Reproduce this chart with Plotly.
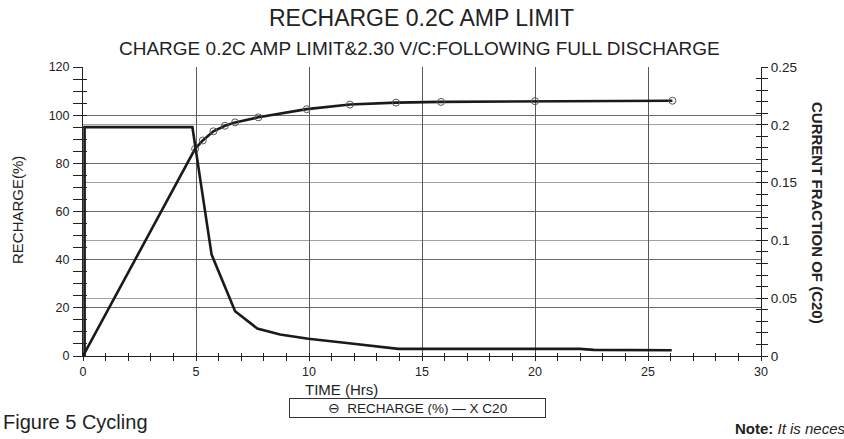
import plotly.graph_objects as go

# ---------------- data ----------------
time_recharge = [0.0, 4.96, 5.30, 5.77, 6.28, 6.73, 7.76, 9.90, 11.81, 13.85, 15.84, 20.0, 26.08]
recharge_pct = [0.0, 86.0, 89.5, 93.3, 95.6, 97.0, 99.1, 102.5, 104.4, 105.2, 105.5, 105.8, 106.0]

time_current = [0.07, 0.07, 4.84, 5.10, 5.69, 6.73, 7.71, 8.72, 9.97, 11.67, 13.95, 21.99, 22.6, 26.05]
current_c20 = [0.0, 0.198, 0.198, 0.164, 0.0877, 0.0387, 0.0238, 0.0186, 0.0149, 0.0112, 0.0062, 0.0062, 0.0053, 0.0050]

x_ticks = [0, 5, 10, 15, 20, 25, 30]
y_left_grid = [20, 40, 60, 80, 100]
y_right_grid = [0.05, 0.10, 0.15, 0.20]

# ---------------- layout geometry ----------------
W, H = 844, 439
L, R, T, B = 83, 83, 67, 83
PW, PH = W - L - R, H - T - B


def fx(p):
    return (p - L) / PW


def fy(p):
    return (H - B - p) / PH


FONT = "Liberation Sans, Arial, sans-serif"
INK = "#1a1a1a"

fig = go.Figure()

fig.add_trace(go.Scatter(x=time_recharge, y=recharge_pct, mode="lines",
                         line=dict(color=INK, width=2.6), showlegend=False,
                         xaxis="x", yaxis="y", name="RECHARGE (%)"))
fig.add_trace(go.Scatter(x=time_recharge[1:], y=recharge_pct[1:], mode="markers",
                         marker=dict(symbol="circle-open", size=7, color="#555555",
                                     line=dict(width=1, color="#555555")),
                         showlegend=False, xaxis="x", yaxis="y", name="RECHARGE (%)"))
fig.add_trace(go.Scatter(x=time_current, y=current_c20, mode="lines",
                         line=dict(color=INK, width=2.6), showlegend=False,
                         xaxis="x", yaxis="y2", name="X C20"))
# empty helpers so the overlay tick/grid axes are drawn
fig.add_trace(go.Scatter(x=[], y=[], xaxis="x2", yaxis="y", showlegend=False))
fig.add_trace(go.Scatter(x=[], y=[], xaxis="x", yaxis="y3", showlegend=False))
fig.add_trace(go.Scatter(x=[], y=[], xaxis="x", yaxis="y4", showlegend=False))

tickfont = dict(family=FONT, size=12.5, color="#222222")

fig.update_layout(
    width=W, height=H,
    margin=dict(l=L, r=R, t=T, b=B, pad=0),
    paper_bgcolor="white", plot_bgcolor="white",
    showlegend=False,
    xaxis=dict(range=[0, 30], tickmode="array", tickvals=x_ticks,
               ticks="outside", ticklen=4, tickcolor="#222", tickwidth=1,
               minor=dict(dtick=1, tick0=0, ticks="outside", ticklen=4, tickcolor="#222", showgrid=False),
               showline=True, linecolor="#222", linewidth=1, showgrid=False, zeroline=False,
               tickfont=tickfont, ticklabelstandoff=0),
    xaxis2=dict(range=[0, 30], overlaying="x", anchor="y", side="bottom",
                tickmode="array", tickvals=x_ticks[1:-1], ticks="inside", ticklen=3,
                tickcolor="#222", showticklabels=False, showline=False, zeroline=False,
                minor=dict(dtick=1, tick0=0, ticks="inside", ticklen=3, tickcolor="#222"),
                showgrid=True, gridcolor="#5a5a5a", gridwidth=1),
    yaxis=dict(range=[0, 120], dtick=20, tick0=0, ticks="outside", ticklen=9,
               tickcolor="#222", minor=dict(dtick=5, tick0=0, ticks="outside", ticklen=9, tickcolor="#222"),
               showline=True, linecolor="#222", linewidth=1, showgrid=False, zeroline=False,
               tickfont=tickfont, ticklabelstandoff=1),
    yaxis3=dict(range=[0, 120], overlaying="y", anchor="x", side="left",
                tickmode="array", tickvals=y_left_grid, ticks="inside", ticklen=4, tickcolor="#222",
                minor=dict(tickmode="array", tickvals=list(range(5, 120, 5)), ticks="inside",
                           ticklen=4, tickcolor="#222"),
                showticklabels=False, showline=False, zeroline=False,
                showgrid=True, gridcolor="#6a6a6a", gridwidth=1),
    yaxis2=dict(range=[0, 0.25], overlaying="y", anchor="x", side="right", dtick=0.05, tick0=0,
                ticks="outside", ticklen=6, tickcolor="#222",
                minor=dict(dtick=0.01, tick0=0, ticks="outside", ticklen=6, tickcolor="#222"),
                showline=True, linecolor="#222", linewidth=1, showgrid=False, zeroline=False,
                tickfont=dict(family=FONT, size=13.5, color="#222222"), ticklabelstandoff=0),
    yaxis4=dict(range=[0, 0.25], overlaying="y", anchor="x", side="right",
                tickmode="array", tickvals=y_right_grid, ticks="inside", ticklen=5, tickcolor="#222",
                minor=dict(tickmode="array", tickvals=[i / 100 for i in range(1, 25)], ticks="inside",
                           ticklen=5, tickcolor="#222"),
                showticklabels=False, showline=False, zeroline=False,
                showgrid=True, gridcolor="#a0a0a0", gridwidth=1),
)

ann = []
ann.append(dict(text="RECHARGE 0.2C AMP LIMIT", x=fx(421.5), y=fy(18), xref="paper", yref="paper",
                xanchor="center", yanchor="middle", showarrow=False,
                font=dict(family=FONT, size=23, color="#222")))
ann.append(dict(text="CHARGE 0.2C AMP LIMIT&2.30 V/C:FOLLOWING FULL DISCHARGE", x=fx(419), y=fy(48),
                xref="paper", yref="paper", xanchor="center", yanchor="middle", showarrow=False,
                font=dict(family=FONT, size=19, color="#222")))
ann.append(dict(text="RECHARGE(%)", x=fx(17), y=fy(210), xref="paper", yref="paper",
                xanchor="center", yanchor="middle", textangle=-90, showarrow=False,
                font=dict(family=FONT, size=15, color="#222")))
ann.append(dict(text="<b>CURRENT FRACTION OF (C20)</b>", x=fx(818), y=fy(213), xref="paper", yref="paper",
                xanchor="center", yanchor="middle", textangle=90, showarrow=False,
                font=dict(family=FONT, size=15, color="#222")))
ann.append(dict(text="TIME (Hrs)", x=fx(341), y=fy(389), xref="paper", yref="paper",
                xanchor="center", yanchor="middle", showarrow=False,
                font=dict(family=FONT, size=15, color="#222")))
ann.append(dict(text="Figure 5 Cycling", x=fx(1), y=fy(422), xref="paper", yref="paper",
                xanchor="left", yanchor="middle", showarrow=False,
                font=dict(family=FONT, size=20, color="#222")))
ann.append(dict(text="\u2296  RECHARGE (%) \u2014 X C20", x=fx(417), y=fy(408), xref="paper", yref="paper",
                xanchor="center", yanchor="middle", showarrow=False, width=251, height=14,
                bordercolor="#333", borderwidth=1, borderpad=2,
                font=dict(family=FONT, size=13.5, color="#222")))
ann.append(dict(text="<b>Note:</b> <i>It is neces</i>", x=fx(733), y=fy(428),
                xref="paper", yref="paper", xanchor="left", yanchor="middle", showarrow=False,
                font=dict(family=FONT, size=15, color="#222")))
fig.update_layout(annotations=ann)

fig.write_html("out.html", config={"displayModeBar": False},
               post_script="document.body.style.margin='0';")
